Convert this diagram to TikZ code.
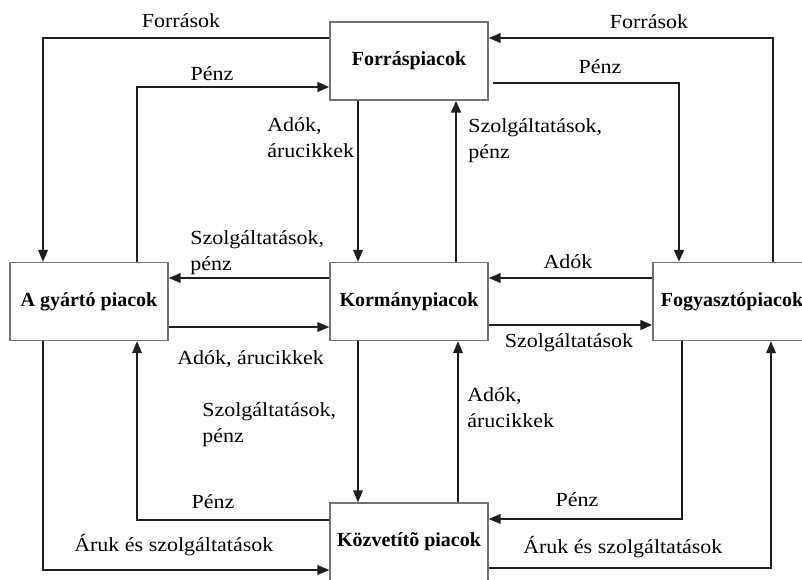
\documentclass[tikz,border=0pt]{standalone}
\usepackage{fontspec}
\setmainfont{Liberation Serif}
\newfontfamily\labelfont{Liberation Serif}[FakeStretch=1.1]
\usetikzlibrary{arrows.meta,calc}

\tikzset{
  market/.style={shape=rectangle,draw=black!55,line width=0.8pt,minimum width=118.5pt,minimum height=58.5pt,inner sep=0pt,font=\fontsize{15}{18}\selectfont\bfseries},
  flow/.style={line width=1.6pt,draw=black!88,-{Triangle[length=9pt,width=7pt]}},
  heavyflow/.style={flow,line width=2.2pt},
  lbl/.style={inner sep=0pt,font=\labelfont\fontsize{15}{19}\selectfont,align=left},
}

\begin{document}
\begin{tikzpicture}[x=0.75pt,y=-0.75pt]
    \path[use as bounding box,clip] (0,0) rectangle (802,579);

    \node[market] (forras) at (409,61) {Forráspiacok};
    \node[market] (gyarto) at (89,301.5) {A gyártó piacok};
    \node[market] (kormany) at (409,301.5) {Kormánypiacok};
    \node[market] (fogyaszto) at (732,301.5) {Fogyasztópiacok};
    \node[market] (kozvetito) at (409,542) {Közvetítõ piacok};

    \draw[flow] ($(forras.west)+(0,-23)$) -| ($(gyarto.north)+(-46,0)$);
    \draw[heavyflow] ($(gyarto.north)+(48,0)$) |- ($(forras.west)+(0,26)$);
    \draw[flow] ($(forras.south)+(-51,0)$) -- ($(kormany.north)+(-51,0)$);
    \draw[heavyflow] ($(kormany.north)+(47,0)$) -- ($(forras.south)+(47,0)$);
    \draw[flow] ($(fogyaszto.north)+(41,0)$) |- ($(forras.east)+(0,-23)$);
    \draw[heavyflow] ($(forras.east)+(4,22)$) -| ($(fogyaszto.north)+(-53,0)$);

    \draw[flow] ($(kormany.west)+(0,-23.5)$) -- ($(gyarto.east)+(0,-23.5)$);
    \draw[flow] ($(gyarto.east)+(0,25.5)$) -- ($(kormany.west)+(0,25.5)$);
    \draw[flow] ($(fogyaszto.west)+(0,-23.5)$) -- ($(kormany.east)+(0,-23.5)$);
    \draw[heavyflow] ($(kormany.east)+(0,23.5)$) -- ($(fogyaszto.west)+(0,23.5)$);

    \draw[flow] ($(gyarto.south)+(-46,0)$) |- ($(kozvetito.west)+(0,28)$);
    \draw[flow] ($(kozvetito.west)+(0,-22)$) -| ($(gyarto.south)+(48,0)$);
    \draw[flow] ($(kormany.south)+(-51,0)$) -- ($(kozvetito.north)+(-51,0)$);
    \draw[flow] ($(kozvetito.north)+(49,0)$) -- ($(kormany.south)+(49,0)$);
    \draw[flow] ($(fogyaszto.south)+(-50,0)$) |- ($(kozvetito.east)+(0,-23)$);
    \draw[flow] ($(kozvetito.east)+(0,26)$) -| ($(fogyaszto.south)+(39,0)$);

    \node[lbl,anchor=base] (lforrasbal) at (181,27) {Források};
    \node[lbl,anchor=base] (lpenzbal) at (212,80) {Pénz};
    \node[lbl,anchor=base west] (ladokfent) at (267,157) {Adók,\\árucikkek};
    \node[lbl,anchor=base west] (lszolgbal) at (190,270) {Szolgáltatások,\\pénz};
    \node[lbl,anchor=base] (lforrasjobb) at (649,28) {Források};
    \node[lbl,anchor=base] (lpenzjobb) at (600,73) {Pénz};
    \node[lbl,anchor=base west] (lszolgfent) at (468,158) {Szolgáltatások,\\pénz};
    \node[lbl,anchor=base] (ladok) at (568,268) {Adók};
    \node[lbl,anchor=base west] (ladokbal) at (177,364) {Adók, árucikkek};
    \node[lbl,anchor=base] (lszolgjobb) at (569,347) {Szolgáltatások};
    \node[lbl,anchor=base west] (lszolglent) at (202,442) {Szolgáltatások,\\pénz};
    \node[lbl,anchor=base] (lpenzlentbal) at (213,508) {Pénz};
    \node[lbl,anchor=base west] (larukbal) at (74,551) {Áruk és szolgáltatások};
    \node[lbl,anchor=base west] (ladoklent) at (467,427) {Adók,\\árucikkek};
    \node[lbl,anchor=base] (lpenzlentjobb) at (577,506) {Pénz};
    \node[lbl,anchor=base west] (larukjobb) at (523,553) {Áruk és szolgáltatások};
\end{tikzpicture}
\end{document}
